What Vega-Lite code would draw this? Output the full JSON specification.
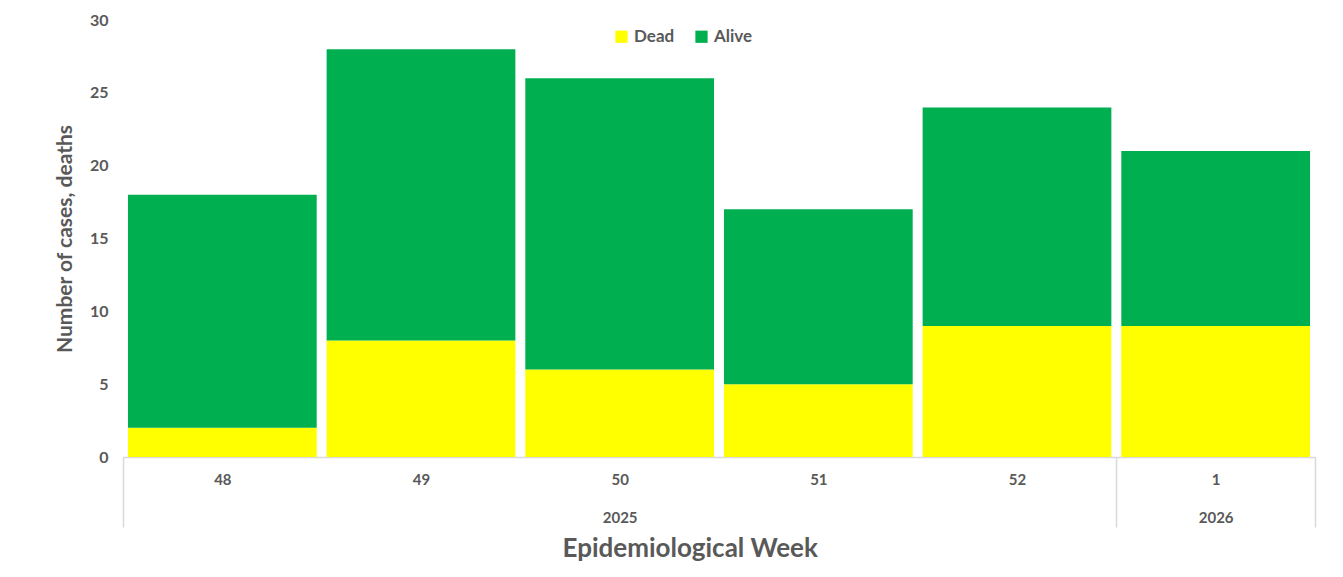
{
  "$schema": "https://vega.github.io/schema/vega-lite/v6.json",
  "width": 1192,
  "height": 437,
  "autosize": {"type": "none"},
  "padding": {"left": 123, "top": 20, "right": 28, "bottom": 120},
  "background": "white",
  "config": {
    "view": {"stroke": null},
    "font": "Lato"
  },
  "data": {
    "values": [
      {"week": 48, "status": "Dead", "count": 2},
      {"week": 48, "status": "Alive", "count": 16},
      {"week": 49, "status": "Dead", "count": 8},
      {"week": 49, "status": "Alive", "count": 20},
      {"week": 50, "status": "Dead", "count": 6},
      {"week": 50, "status": "Alive", "count": 20},
      {"week": 51, "status": "Dead", "count": 5},
      {"week": 51, "status": "Alive", "count": 12},
      {"week": 52, "status": "Dead", "count": 9},
      {"week": 52, "status": "Alive", "count": 15},
      {"week": 1, "status": "Dead", "count": 9},
      {"week": 1, "status": "Alive", "count": 12}
    ]
  },
  "mark": {"type": "bar", "width": {"band": 0.95}},
  "encoding": {
    "x": {
      "field": "week",
      "type": "ordinal",
      "sort": [48, 49, 50, 51, 52, 1],
      "scale": {"paddingInner": 0, "paddingOuter": 0},
      "axis": {
        "title": "Epidemiological Week",
        "titleFontSize": 26,
        "titleFontWeight": "bold",
        "titleColor": "#595959",
        "titleAnchor": "start",
        "titleX": 439,
        "titleY": 91,
        "titleBaseline": "middle",
        "labelAngle": 0,
        "labelFontSize": 15,
        "labelFontWeight": "bold",
        "labelColor": "#595959",
        "labelPadding": -55,
        "labelBaseline": "top",
        "labelLineHeight": 38,
        "labelExpr": "datum.value == 50 ? ['50', '2025'] : datum.value == 1 ? ['1', '2026'] : datum.label",
        "domainColor": "#d9d9d9",
        "domainWidth": 1.5,
        "tickBand": "extent",
        "tickSize": 70,
        "tickColor": "#d9d9d9",
        "tickWidth": 1.5,
        "tickOpacity": {"condition": {"test": "datum.value >= 48 && datum.value <= 51", "value": 0}, "value": 1}
      }
    },
    "y": {
      "field": "count",
      "type": "quantitative",
      "stack": "zero",
      "scale": {"domain": [0, 30], "nice": false},
      "axis": {
        "title": "Number of cases, deaths",
        "titleFontSize": 21,
        "titleFontWeight": "bold",
        "titleColor": "#595959",
        "titlePadding": 14,
        "values": [0, 5, 10, 15, 20, 25, 30],
        "labelFontSize": 16,
        "labelFontWeight": "bold",
        "labelColor": "#595959",
        "labelPadding": 15,
        "domain": false,
        "ticks": false,
        "grid": false
      }
    },
    "color": {
      "field": "status",
      "type": "nominal",
      "scale": {"domain": ["Dead", "Alive"], "range": ["#FFFF00", "#00B050"]},
      "legend": {
        "title": null,
        "orient": "none",
        "direction": "horizontal",
        "legendX": 490,
        "legendY": 8,
        "symbolType": "square",
        "symbolSize": 150,
        "symbolStrokeWidth": 0,
        "labelFontSize": 17,
        "labelFontWeight": "bold",
        "labelColor": "#595959",
        "columnPadding": 18
      }
    },
    "order": {"field": "status", "sort": "descending"}
  }
}
